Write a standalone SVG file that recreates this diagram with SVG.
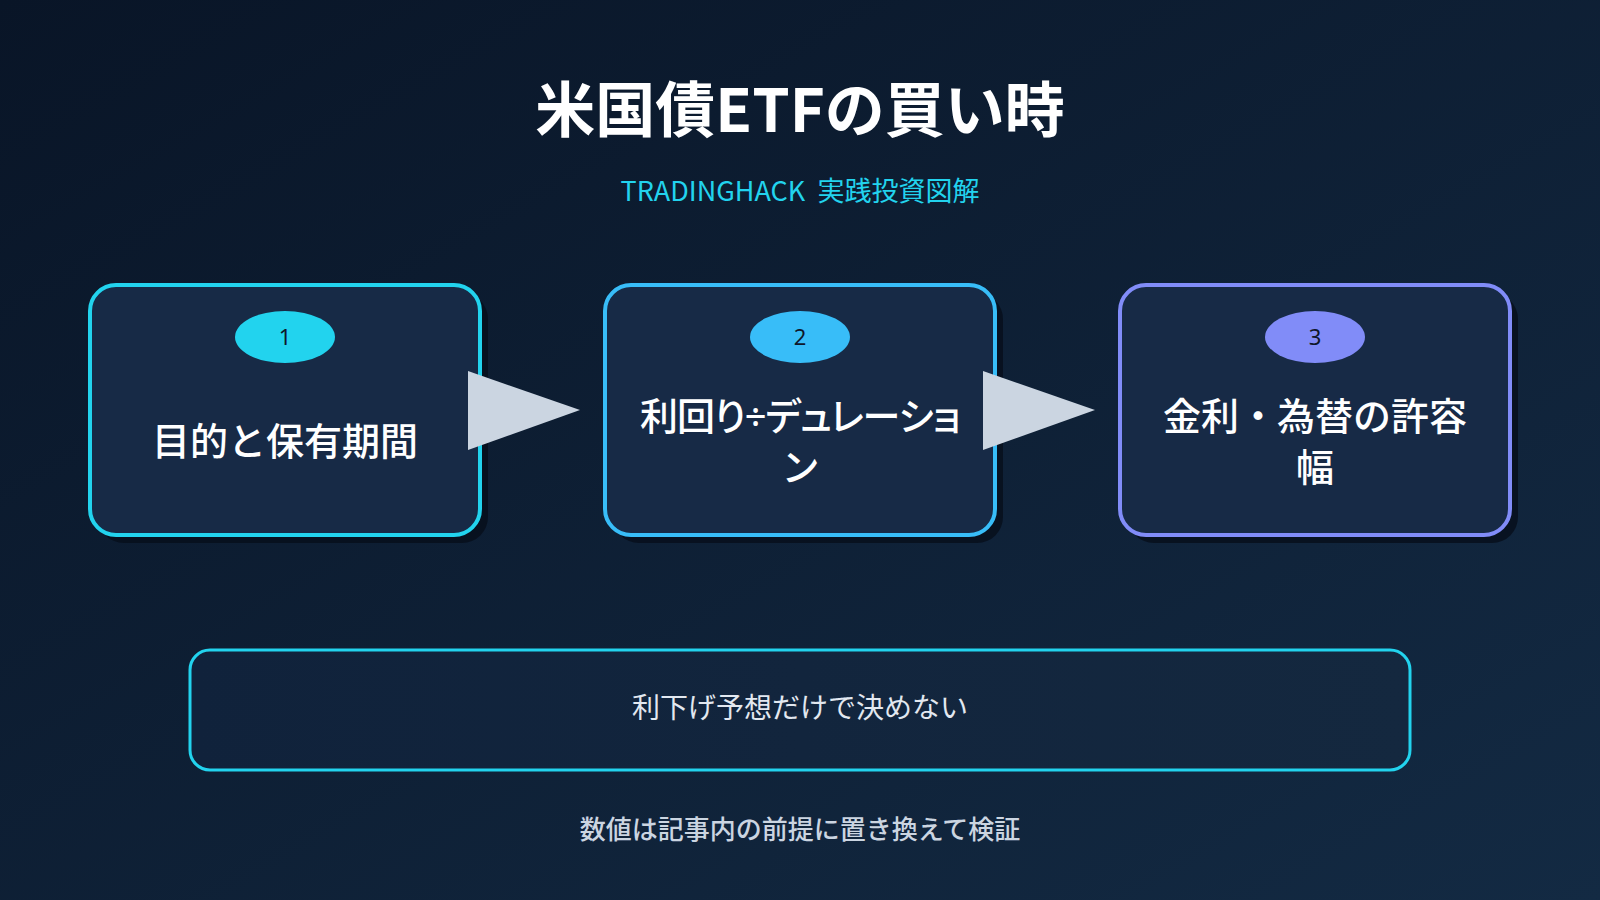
<svg xmlns="http://www.w3.org/2000/svg" width="1600" height="900" viewBox="0 0 1600 900">
<defs>
<linearGradient id="bg" x1="0" y1="0" x2="1" y2="1">
<stop offset="0" stop-color="#091527"/>
<stop offset="1" stop-color="#132a43"/>
</linearGradient>
<linearGradient id="note" x1="0" y1="0" x2="1" y2="0">
<stop offset="0" stop-color="#10223b"/>
<stop offset="1" stop-color="#14283f"/>
</linearGradient>
</defs>
<style>
.jp{font-family:"Noto Sans CJK JP","Noto Sans",sans-serif}
.title{font-size:60px;font-weight:700;fill:#ffffff}
.sub{font-size:27px;font-weight:400;fill:#22d3ee;white-space:pre}
.shadow{fill:#070f1c;opacity:0.85}
.card{fill:#172a46;stroke-width:4}
.num{font-size:22px;fill:#0f172a;font-family:"Noto Sans","Noto Sans CJK JP",sans-serif}
.lbl{font-size:38px;font-weight:500;fill:#ffffff}
.prop{font-family:"Noto Sans","Noto Sans CJK JP",sans-serif;font-feature-settings:"palt";letter-spacing:-1px}
.arrow{fill:#cbd5e1}
.notebox{fill:url(#note);stroke:#22d3ee;stroke-width:3}
.notetxt{font-size:28px;fill:#e2e8f0}
.foot{font-size:26px;font-weight:500;fill:#cbd5e1}
</style>
<rect x="0" y="0" width="1600" height="900" fill="url(#bg)"/>
<g id="header">
<text class="jp title" x="800" y="132" text-anchor="middle">米国債ETFの買い時</text>
<text class="jp sub" x="800" y="201" text-anchor="middle" xml:space="preserve">TRADINGHACK  実践投資図解</text>
</g>
<g id="step1">
<rect class="shadow" x="98" y="293" width="390" height="250" rx="26"/>
<rect class="card" x="90" y="285" width="390" height="250" rx="26" stroke="#22d3ee"/>
<ellipse cx="285" cy="337" rx="50" ry="26" fill="#22d3ee"/>
<text class="num" x="285" y="345" text-anchor="middle">1</text>
<text class="jp lbl" x="285" y="455" text-anchor="middle">目的と保有期間</text>
</g>
<g id="step2">
<rect class="shadow" x="613" y="293" width="390" height="250" rx="26"/>
<rect class="card" x="605" y="285" width="390" height="250" rx="26" stroke="#38bdf8"/>
<ellipse cx="800" cy="337" rx="50" ry="26" fill="#38bdf8"/>
<text class="num" x="800" y="345" text-anchor="middle">2</text>
<text class="lbl prop" x="800" y="430" text-anchor="middle">利回り÷デュレーショ</text>
<text class="lbl prop" x="800" y="481" text-anchor="middle">ン</text>
</g>
<g id="step3">
<rect class="shadow" x="1128" y="293" width="390" height="250" rx="26"/>
<rect class="card" x="1120" y="285" width="390" height="250" rx="26" stroke="#818cf8"/>
<ellipse cx="1315" cy="337" rx="50" ry="26" fill="#818cf8"/>
<text class="num" x="1315" y="345" text-anchor="middle">3</text>
<text class="jp lbl" x="1315" y="430" text-anchor="middle">金利・為替の許容</text>
<text class="jp lbl" x="1315" y="481" text-anchor="middle">幅</text>
</g>
<g id="connectors">
<polygon class="arrow" points="468,371 580,410 468,450"/>
<polygon class="arrow" points="983,371 1095,410 983,450"/>
</g>
<g id="note">
<rect class="notebox" x="190" y="650" width="1220" height="120" rx="20"/>
<text class="jp notetxt" x="800" y="718" text-anchor="middle">利下げ予想だけで決めない</text>
</g>
<g id="footer">
<text class="jp foot" x="800" y="839" text-anchor="middle">数値は記事内の前提に置き換えて検証</text>
</g>
</svg>
